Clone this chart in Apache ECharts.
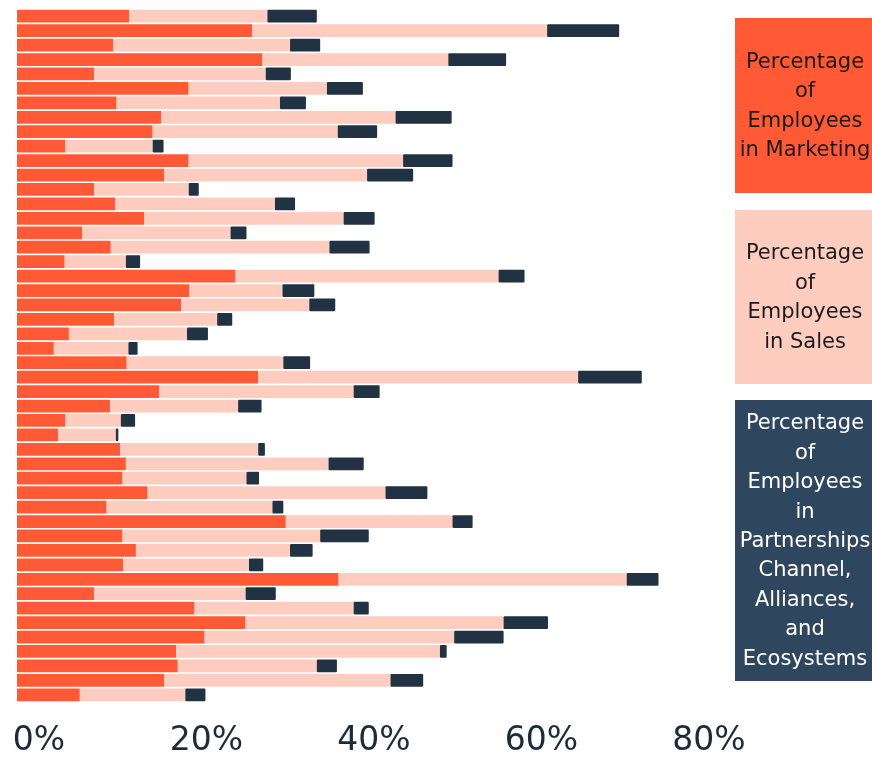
<!DOCTYPE html>
<html>
<head>
    <meta charset="utf-8">
    <title>Employees by function</title>
    <script src="https://cdn.jsdelivr.net/npm/echarts@6/dist/echarts.min.js"></script>
    <style>
        html, body {margin: 0; padding: 0; background: #fff;}
        #mainChart {width: 872px; height: 758px;}
    </style>
</head>
<body>
<div id="mainChart"></div>
<script>
    // 每一行是一家公司（无名称），数值为百分比
    var rows = [];
    for (var i = 1; i <= 48; i++) {
        rows.push('row' + i);
    }
    var marketing = [13.4, 28.1, 11.5, 29.3, 9.2, 20.5, 11.9, 17.2, 16.2, 5.8, 20.5, 17.6,
        9.2, 11.7, 15.2, 7.8, 11.2, 5.7, 26.1, 20.6, 19.6, 11.6, 6.2, 4.4,
        13.1, 28.8, 17.0, 11.1, 5.8, 4.9, 12.3, 13.0, 12.6, 15.6, 10.7, 32.1,
        12.6, 14.2, 12.7, 38.4, 9.2, 21.2, 27.3, 22.4, 19.0, 19.2, 17.6, 7.5];
    var sales = [16.5, 35.2, 21.1, 22.2, 20.5, 16.5, 19.5, 28.0, 22.1, 10.4, 25.6, 24.2,
        11.3, 19.1, 23.8, 17.7, 26.1, 7.3, 31.4, 11.1, 15.3, 12.3, 14.1, 8.9,
        18.7, 38.2, 23.2, 15.3, 6.6, 6.9, 16.5, 24.2, 14.8, 28.4, 19.8, 19.9,
        23.6, 18.4, 15.0, 34.4, 18.1, 19.0, 30.8, 29.8, 31.5, 16.6, 27.0, 12.6];
    var partnerships = [5.9, 8.6, 3.6, 6.9, 3.0, 4.3, 3.1, 6.7, 4.7, 1.3, 5.9, 5.5,
        1.2, 2.4, 3.7, 1.9, 4.8, 1.7, 3.1, 3.8, 3.1, 1.8, 2.5, 1.1,
        3.2, 7.6, 3.1, 2.8, 1.7, 0.3, 0.8, 4.2, 1.5, 5.0, 1.3, 2.4,
        5.8, 2.7, 1.7, 3.8, 3.6, 1.8, 5.3, 5.9, 0.8, 2.4, 3.9, 2.4];

    var legendNames = [
        'Percentage\nof\nEmployees\nin Marketing',
        'Percentage\nof\nEmployees\nin Sales',
        'Percentage\nof\nEmployees\nin\nPartnerships\nChannel,\nAlliances,\nand\nEcosystems'
    ];

    var colors = ['#ff5a35', '#ffcdc0', '#213343'];
    var boxColors = ['#ff5a35', '#ffcdc0', '#2f475e'];
    var boxText = ['#1b1b1b', '#1b1b1b', '#ffffff'];
    var boxPos = [[18, 175], [210, 174], [400, 281]];

    function legendBox(idx) {
        return {
            type: 'group',
            children: [
                {
                    type: 'rect',
                    shape: {x: 735, y: boxPos[idx][0], width: 137, height: boxPos[idx][1]},
                    style: {fill: boxColors[idx]}
                },
                {
                    type: 'text',
                    x: 805,
                    y: boxPos[idx][0] + boxPos[idx][1] / 2 + 1,
                    style: {
                        text: legendNames[idx],
                        fill: boxText[idx],
                        font: '21px "DejaVu Sans", sans-serif',
                        lineHeight: 29.4,
                        align: 'center',
                        verticalAlign: 'middle'
                    }
                }
            ]
        };
    }

    let myChart = echarts.init(document.getElementById('mainChart'), null, {renderer: 'canvas'});
    myChart.setOption({
        animation: false,
        grid: {left: 17, right: 185, top: 9, bottom: 56, containLabel: false, outerBoundsMode: 'none'},
        xAxis: {
            type: 'value',
            min: 0,
            max: 80,
            interval: 20,
            axisLine: {show: false},
            axisTick: {show: false},
            splitLine: {show: false},
            axisLabel: {
                formatter: '{value}%',
                color: '#1c2b3a',
                fontSize: 33,
                fontFamily: '"DejaVu Sans", sans-serif',
                margin: 39,
                verticalAlign: 'middle',
                padding: [0, 0, 0, 44]
            }
        },
        yAxis: {
            type: 'category',
            data: rows,
            inverse: true,
            show: false
        },
        series: [
            {name: 'Marketing', type: 'bar', stack: 'total', data: marketing, barCategoryGap: '12%',
                itemStyle: {color: colors[0]}},
            {name: 'Sales', type: 'bar', stack: 'total', data: sales,
                itemStyle: {color: colors[1]}},
            {name: 'Partnerships', type: 'bar', stack: 'total', data: partnerships,
                itemStyle: {color: colors[2], borderRadius: 1}}
        ],
        graphic: [legendBox(0), legendBox(1), legendBox(2)]
    });
</script>
</body>
</html>
